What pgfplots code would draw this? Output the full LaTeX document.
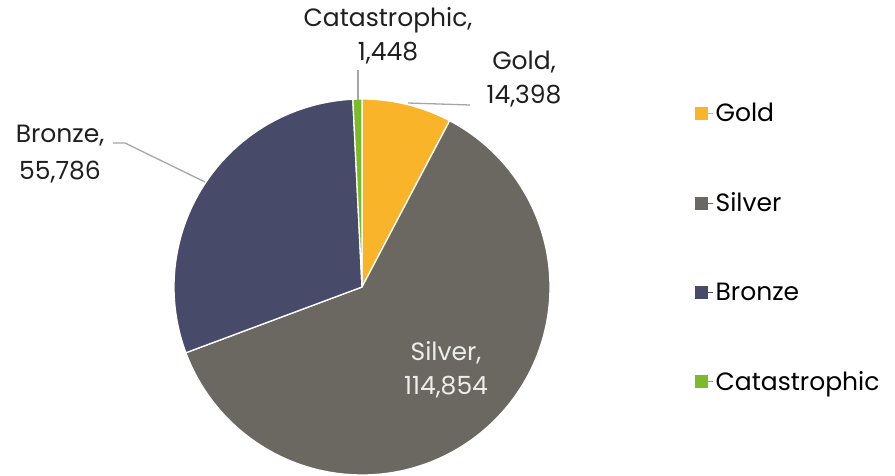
\documentclass[border=0pt]{standalone}
\usepackage{pgfplots}
\pgfplotsset{compat=1.18}
\usepackage{fontspec}
\setmainfont{Poppins}
\definecolor{cGold}{HTML}{F9B42A}
\definecolor{cSilver}{HTML}{6B6861}
\definecolor{cBronze}{HTML}{484A6A}
\definecolor{cCat}{HTML}{7BBB29}
\definecolor{cLead}{HTML}{A6A6A6}
% values
\def\vGold{14398}
\def\vSilver{114854}
\def\vBronze{55786}
\def\vCat{1448}
\edef\vTot{\fpeval{\vGold+\vSilver+\vBronze+\vCat}}
\edef\aA{90}
\edef\aB{\fpeval{round(\aA-360*\vGold/\vTot,4)}}
\edef\aC{\fpeval{round(\aB-360*\vSilver/\vTot,4)}}
\edef\aD{\fpeval{round(\aC-360*\vBronze/\vTot,4)}}
\edef\aE{\fpeval{round(\aD-360*\vCat/\vTot,4)}}
\begin{document}
\begin{tikzpicture}
\def\cx{362}\def\cy{187}\def\rr{188}
\begin{axis}[
  scale only axis, width=895pt, height=474pt,
  xmin=0, xmax=895, ymin=0, ymax=474,
  hide axis, clip=false,
  legend style={at={(axis cs:695,373)}, anchor=north west, draw=none, fill=none,
    font=\fontsize{25}{30}\selectfont, row sep=65.5pt,
    legend cell align=left, inner sep=0pt},
  legend image code/.code={\fill[#1] (0pt,-6pt) rectangle (12pt,6pt); \path (0pt,0pt) -- (18pt,0pt);},
]
\draw[draw=none] (axis cs:0,0) rectangle (axis cs:895,474);
\addplot[forget plot, fill=cGold, draw=white, line width=1.3pt, domain=\aB:\aA, samples=40, variable=\t]
  ({\cx+\rr*cos(\t)}, {\cy+\rr*sin(\t)}) -- (axis cs:\cx,\cy) -- cycle;
\addplot[forget plot, fill=cSilver, draw=white, line width=1.3pt, domain=\aC:\aB, samples=150, variable=\t]
  ({\cx+\rr*cos(\t)}, {\cy+\rr*sin(\t)}) -- (axis cs:\cx,\cy) -- cycle;
\addplot[forget plot, fill=cBronze, draw=white, line width=1.3pt, domain=\aD:\aC, samples=80, variable=\t]
  ({\cx+\rr*cos(\t)}, {\cy+\rr*sin(\t)}) -- (axis cs:\cx,\cy) -- cycle;
\addplot[forget plot, fill=cCat, draw=white, line width=1.3pt, domain=\aE:\aD, samples=5, variable=\t]
  ({\cx+\rr*cos(\t)}, {\cy+\rr*sin(\t)}) -- (axis cs:\cx,\cy) -- cycle;
% leader lines
\addplot[forget plot, cLead, line width=1.3pt] coordinates {(358,404) (358,374)};
\addplot[forget plot, cLead, line width=1.3pt] coordinates {(408,371) (470,369)};
\addplot[forget plot, cLead, line width=1.3pt] coordinates {(113,331) (125,331) (205,292)};
% labels
\node[align=center, font=\fontsize{25}{34}\selectfont, text=black!88] at (axis cs:388,438) {Catastrophic,\\1,448};
\node[align=center, font=\fontsize{25}{34}\selectfont, text=black!88] at (axis cs:524,395) {Gold,\\14,398};
\node[align=center, font=\fontsize{25}{37}\selectfont, text=black!88] at (axis cs:60,320) {Bronze,\\55,786};
\node[align=center, font=\fontsize{25}{34}\selectfont, text=white!93!black] at (axis cs:446,104) {Silver,\\114,854};
% legend
\addlegendimage{cGold}\addlegendentry{Gold}
\addlegendimage{cSilver}\addlegendentry{Silver}
\addlegendimage{cBronze}\addlegendentry{Bronze}
\addlegendimage{cCat}\addlegendentry{Catastrophic}
\end{axis}
\end{tikzpicture}
\end{document}
